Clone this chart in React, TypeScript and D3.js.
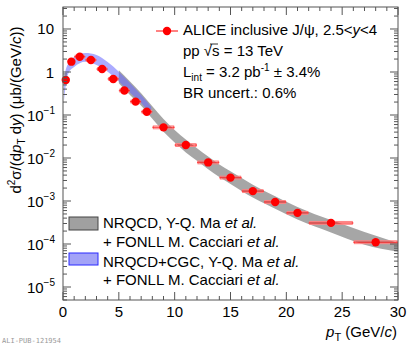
import * as d3 from "d3";
import React from "react";

// ALICE inclusive J/psi, pp 13 TeV, forward rapidity
const binLow = [0, 0.5, 1, 2, 3, 4, 5, 6, 7, 8, 10, 12, 14, 16, 18, 20, 22, 26];
const binHigh = [0.5, 1, 2, 3, 4, 5, 6, 7, 8, 10, 12, 14, 16, 18, 20, 22, 26, 30];
const ptCenter = [0.25, 0.75, 1.5, 2.5, 3.5, 4.5, 5.5, 6.5, 7.5, 9, 11, 13, 15, 17, 19, 21, 24, 28];
const xsec = [0.65, 1.74, 2.27, 1.9, 1.17, 0.69, 0.37, 0.205, 0.119, 0.0516, 0.02, 0.0079, 0.0035, 0.0017, 0.00095, 0.00053, 0.00031, 0.00011];

// NRQCD + FONLL (grey band)
const nrqcdPt = [5, 6, 7, 8, 9, 10, 11, 12, 13, 14, 15, 17, 19, 21, 24, 27, 30];
const nrqcdHi = [1.1, 0.6, 0.32, 0.16, 0.081, 0.045, 0.027, 0.0168, 0.0108, 0.0071, 0.0049, 0.0024, 0.00129, 0.00073, 0.00036, 0.00019, 0.000105];
const nrqcdLo = [0.55, 0.29, 0.165, 0.082, 0.041, 0.023, 0.0135, 0.0086, 0.0055, 0.0036, 0.0025, 0.0012, 0.00066, 0.00037, 0.000186, 0.0000965, 0.000066];

// NRQCD+CGC + FONLL (blue band)
const cgcPt = [0.1, 0.25, 0.5, 1, 1.5, 2, 3, 4, 5, 6, 7, 7.9];
const cgcHi = [0.75, 1.15, 1.62, 2.23, 2.6, 2.75, 2.49, 1.71, 1.02, 0.555, 0.29, 0.155];
const cgcLo = [0.22, 0.5, 0.95, 1.31, 1.6, 1.72, 1.45, 1.02, 0.6, 0.33, 0.19, 0.1];

const xTicks = [0, 5, 10, 15, 20, 25, 30];
const yDecades = [1, 0, -1, -2, -3, -4, -5];

const W = 407, H = 346;
const left = 63, right = 398, top = 7, bottom = 300;
const font = "'Liberation Sans', Arial, Helvetica, sans-serif";

export default function App() {
  const x = d3.scaleLinear().domain([0, 30]).range([left, right]);
  const y = d3.scaleLog().domain([Math.pow(10, -5.302), Math.pow(10, 1.5116)]).range([bottom, top]);

  const grey = d3.area<number>()
    .x(i => x(nrqcdPt[i]))
    .y0(i => y(nrqcdLo[i]))
    .y1(i => y(nrqcdHi[i]))
    .curve(d3.curveMonotoneX);
  const blue = d3.area<number>()
    .x(i => x(cgcPt[i]))
    .y0(i => y(cgcLo[i]))
    .y1(i => y(cgcHi[i]))
    .curve(d3.curveMonotoneX);

  const minorX = d3.range(0, 31, 1).filter(v => v % 5 !== 0);
  const minorY: number[] = [];
  for (let e = -6; e <= 1; e++) {
    for (let m = 2; m <= 9; m++) {
      const v = m * Math.pow(10, e);
      if (y(v) >= top && y(v) <= bottom) minorY.push(v);
    }
  }

  return (
    <svg width={W} height={H} style={{ position: "absolute", left: 0, top: 0 }} fontFamily={font}>
      <rect width={W} height={H} fill="white" />

      {/* theory bands */}
      <path d={grey(d3.range(nrqcdPt.length)) || ""} fill="#a6a6a6" />
      <path d={blue(d3.range(cgcPt.length)) || ""} fill="#6666ff" fillOpacity={0.55} />

      {/* data */}
      {ptCenter.map((pt, i) => {
        const cy = y(xsec[i]);
        const sys = 1.08;
        return (
          <g key={i}>
            <rect x={x(binLow[i]) + 1} y={y(xsec[i] * sys)} width={x(binHigh[i]) - x(binLow[i]) - 2}
              height={y(xsec[i] / sys) - y(xsec[i] * sys)} fill="none" stroke="#ff8080" strokeWidth={1} />
            <line x1={x(binLow[i])} x2={x(binHigh[i])} y1={cy} y2={cy} stroke="#ff2020" strokeOpacity={0.75} strokeWidth={1.5} />
            <line x1={x(pt)} x2={x(pt)} y1={y(xsec[i] * 1.06)} y2={y(xsec[i] / 1.06)} stroke="#ff0000" strokeWidth={1.5} />
            <circle cx={x(pt)} cy={cy} r={4.2} fill="#ff0000" />
          </g>
        );
      })}

      {/* frame */}
      <rect x={left} y={top} width={right - left} height={bottom - top} fill="none" stroke="#555" strokeWidth={1} />

      {/* x ticks */}
      {xTicks.map(t => (
        <g key={"xt" + t}>
          <line x1={x(t)} x2={x(t)} y1={bottom} y2={bottom - 8} stroke="#555" />
          <line x1={x(t)} x2={x(t)} y1={top} y2={top + 8} stroke="#555" />
          <text x={x(t)} y={317} fontSize={15} textAnchor="middle">{t}</text>
        </g>
      ))}
      {minorX.map(t => (
        <g key={"xm" + t}>
          <line x1={x(t)} x2={x(t)} y1={bottom} y2={bottom - 4} stroke="#555" />
          <line x1={x(t)} x2={x(t)} y1={top} y2={top + 4} stroke="#555" />
        </g>
      ))}

      {/* y ticks */}
      {yDecades.map(e => {
        const yy = y(Math.pow(10, e));
        return (
          <g key={"yt" + e}>
            <line x1={left} x2={left + 8} y1={yy} y2={yy} stroke="#555" />
            <line x1={right} x2={right - 8} y1={yy} y2={yy} stroke="#555" />
            {e === 1 ? (
              <text x={54} y={yy + 5.5} fontSize={15} textAnchor="end">10</text>
            ) : e === 0 ? (
              <text x={54} y={yy + 5.5} fontSize={15} textAnchor="end">1</text>
            ) : (
              <text x={55} y={yy + 5.5} fontSize={15} textAnchor="end">
                10<tspan fontSize={10} dy={-7}>{"\u2212" + -e}</tspan>
              </text>
            )}
          </g>
        );
      })}
      {minorY.map((v, i) => (
        <g key={"ym" + i}>
          <line x1={left} x2={left + 4} y1={y(v)} y2={y(v)} stroke="#555" />
          <line x1={right} x2={right - 4} y1={y(v)} y2={y(v)} stroke="#555" />
        </g>
      ))}

      {/* axis titles */}
      <text x={397} y={337} fontSize={15} textAnchor="end">
        <tspan fontStyle="italic">p</tspan>
        <tspan fontSize={11} dy={4}>T</tspan>
        <tspan dy={-4}>{" (GeV/"}</tspan>
        <tspan fontStyle="italic">c</tspan>
        <tspan>)</tspan>
      </text>
      <text transform="translate(21,110) rotate(-90)" fontSize={15} textAnchor="middle">
        d<tspan fontSize={10} dy={-6}>2</tspan>
        <tspan dy={6}>σ/(d</tspan>
        <tspan fontStyle="italic">p</tspan>
        <tspan fontSize={10} dy={4}>T</tspan>
        <tspan dy={-4}>{" d"}</tspan>
        <tspan fontStyle="italic">y</tspan>
        <tspan>{") (μb/(GeV/"}</tspan>
        <tspan fontStyle="italic">c</tspan>
        <tspan>))</tspan>
      </text>

      {/* data legend */}
      <line x1={156} x2={178} y1={31} y2={31} stroke="#ff2020" strokeOpacity={0.75} strokeWidth={1.5} />
      <circle cx={167} cy={31} r={4.2} fill="#ff0000" />
      <text x={183} y={35} fontSize={15}>
        ALICE inclusive J/ψ, 2.5&lt;<tspan fontStyle="italic">y</tspan>&lt;4
      </text>
      <text x={183} y={56} fontSize={15}>
        pp √s = 13 TeV
      </text>
      <line x1={210} x2={218} y1={44} y2={44} stroke="black" strokeWidth={0.8} />
      <text x={183} y={77} fontSize={15}>
        L<tspan fontSize={10} dy={4}>int</tspan>
        <tspan dy={-4}> = 3.2 pb</tspan>
        <tspan fontSize={10} dy={-6}>-1</tspan>
        <tspan dy={6}> ± 3.4%</tspan>
      </text>
      <text x={183} y={98} fontSize={15}>BR uncert.: 0.6%</text>

      {/* theory legend */}
      <rect x={69} y={217} width={29} height={13} fill="#a0a0a0" stroke="#444" strokeWidth={1} />
      <text x={103} y={228} fontSize={15}>
        NRQCD, Y-Q. Ma <tspan fontStyle="italic">et al.</tspan>
      </text>
      <text x={103} y={246.5} fontSize={15}>
        + FONLL M. Cacciari <tspan fontStyle="italic">et al.</tspan>
      </text>
      <rect x={69} y={253} width={29} height={12} fill="#a3a3f7" stroke="#2a2aff" strokeWidth={1} />
      <text x={103} y={266.5} fontSize={15}>
        NRQCD+CGC, Y-Q. Ma <tspan fontStyle="italic">et al.</tspan>
      </text>
      <text x={103} y={285} fontSize={15}>
        + FONLL M. Cacciari <tspan fontStyle="italic">et al.</tspan>
      </text>

      <text x={2} y={343} fontSize={7} fontFamily="'DejaVu Sans Mono', monospace" fill="#999">ALI-PUB-121954</text>
    </svg>
  );
}
